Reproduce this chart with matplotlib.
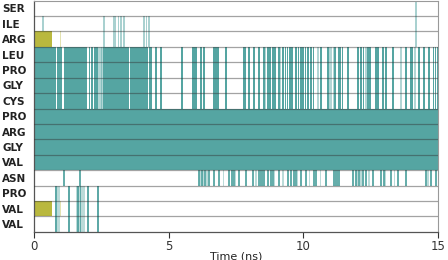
import matplotlib
matplotlib.use('Agg')
import matplotlib.pyplot as plt

residues = ['SER', 'ILE', 'ARG', 'LEU', 'PRO', 'GLY', 'CYS',
            'PRO', 'ARG', 'GLY', 'VAL', 'ASN', 'PRO', 'VAL', 'VAL']

# rows 3-6 (LEU..CYS): mostly occupied for the first ~4.7 ns
group_a_fill = [(0, 0.8), (0.85, 0.2), (1.13, 0.85), (2.03, 0.04), (2.11, 0.07),
                (2.22, 0.15), (2.56, 0.95), (3.55, 0.68), (4.27, 0.1), (4.48, 0.1),
                (4.68, 0.07)]
group_a_light = [2.38, 2.45, 2.5, 10.92, 11.0, 11.08, 8.55, 9.12, 10.5, 12.3, 13.6, 14.1]
group_a_dark = [5.46, 5.87, 5.9, 5.98, 6.16, 6.28, 6.65, 6.7, 6.75, 6.8, 7.09, 7.76, 7.8,
                7.95, 8.13, 8.32, 8.5, 8.65, 8.72, 8.84, 8.88, 8.92, 9.06, 9.21, 9.3,
                9.38, 9.47, 9.55, 9.7, 9.78, 9.87, 9.95, 10.05, 10.15, 10.25, 10.35,
                10.62, 10.88, 11.15, 11.29, 11.35, 11.42, 11.62, 11.99, 12.1, 12.2,
                12.37, 12.45, 12.66, 12.74, 12.92, 13.03, 13.29, 13.78, 13.96, 14.02,
                14.26, 14.44, 14.63, 14.8, 14.87, 14.94]

# rows 7-10 (PRO ARG GLY VAL): occupied the whole run
group_b_fill = [(0, 15)]

# ASN row
asn_dark = [1.08, 1.67, 6.09, 6.2, 6.31, 6.46, 6.65, 6.83, 7.2, 7.32, 7.39, 7.58, 7.84,
            8.1, 8.32, 8.38, 8.44, 8.5, 8.65, 8.76, 8.84, 9.06, 9.39, 9.51, 9.62, 9.69,
            9.88, 10.06, 10.37, 10.43, 10.81, 11.1, 11.16, 11.22, 11.29, 11.81, 11.92,
            12.03, 12.18, 12.29, 12.55, 12.85, 12.96, 13.22, 13.48, 13.78, 14.52, 14.7,
            14.89]
asn_light = [6.12, 6.25, 6.4, 7.0, 7.45, 8.2, 8.9, 9.2, 9.75, 10.2, 10.6, 11.95, 12.1,
             12.4, 13.0, 13.35, 14.6]

# ILE / ARG rows
ile_only = [0.3]
ile_arg = [2.56, 2.93, 3.0, 3.1, 3.2, 3.3, 4.05, 4.15, 4.23]
top_three = [14.15]

# PRO / VAL / VAL rows at the bottom
bottom_dark = [0.78, 1.26, 1.6, 1.7, 1.97, 2.34]
bottom_light = [0.86, 0.92, 1.56, 1.65, 1.75, 1.82]

# olive blocks (ARG row 2, VAL row 13)
olive_rows = [2, 13]
olive_block = (0, 0.67)
olive_faint = 0.95

teal = '#55a5a2'
olive = '#b9b83e'
lw = 0.06

fig = plt.figure(figsize=(4.48, 2.6), dpi=100)
ax = fig.add_axes([0.076, 0.108, 0.902, 0.89])


def lines(times, rows, color, alpha):
    for r in rows:
        ax.broken_barh([(t, lw) for t in times], (r, 1), facecolors=color,
                       alpha=alpha, linewidth=0)


for r in range(3, 7):
    ax.broken_barh(group_a_fill, (r, 1), facecolors=teal, linewidth=0)
lines(group_a_dark, range(3, 7), teal, 1.0)
lines(group_a_light, range(3, 7), teal, 0.45)

for r in range(7, 11):
    ax.broken_barh(group_b_fill, (r, 1), facecolors=teal, linewidth=0)

lines(asn_dark, [11], teal, 0.9)
lines(asn_light, [11], teal, 0.4)

lines(ile_only, [1], teal, 0.5)
lines(ile_arg, [1, 2], teal, 0.5)
lines(top_three, [0, 1, 2], teal, 0.5)

lines(bottom_dark, [12, 13, 14], teal, 0.95)
lines(bottom_light, [12, 13, 14], teal, 0.4)

for r in olive_rows:
    ax.broken_barh([olive_block], (r, 1), facecolors=olive, linewidth=0)
    ax.broken_barh([(olive_faint, lw)], (r, 1), facecolors=olive, alpha=0.4, linewidth=0)

# row separators
for r in range(1, len(residues)):
    ax.axhline(r, color='#333333', alpha=0.45, lw=0.9, zorder=3)

ax.set_xlim(0, 15)
ax.set_ylim(len(residues), 0)
ax.set_yticks([i + 0.5 for i in range(len(residues))])
ax.set_yticklabels(residues, fontsize=7.5, fontweight='bold', color='#222222')
for lbl in ax.get_yticklabels():
    lbl.set_horizontalalignment('left')
ax.tick_params(axis='y', length=0, pad=23)
ax.set_xticks([0, 5, 10, 15])
ax.tick_params(axis='x', length=4, width=0.8, pad=1.5, labelsize=8.5, colors='#333333')
ax.set_xlabel('Time (ns)', fontsize=8, color='#222222', labelpad=-1)

for side in ['left', 'bottom']:
    ax.spines[side].set_color('#555555')
    ax.spines[side].set_linewidth(0.9)
for side in ['top', 'right']:
    ax.spines[side].set_color('#999999')
    ax.spines[side].set_linewidth(0.8)

fig.savefig('out.png', dpi=100)
